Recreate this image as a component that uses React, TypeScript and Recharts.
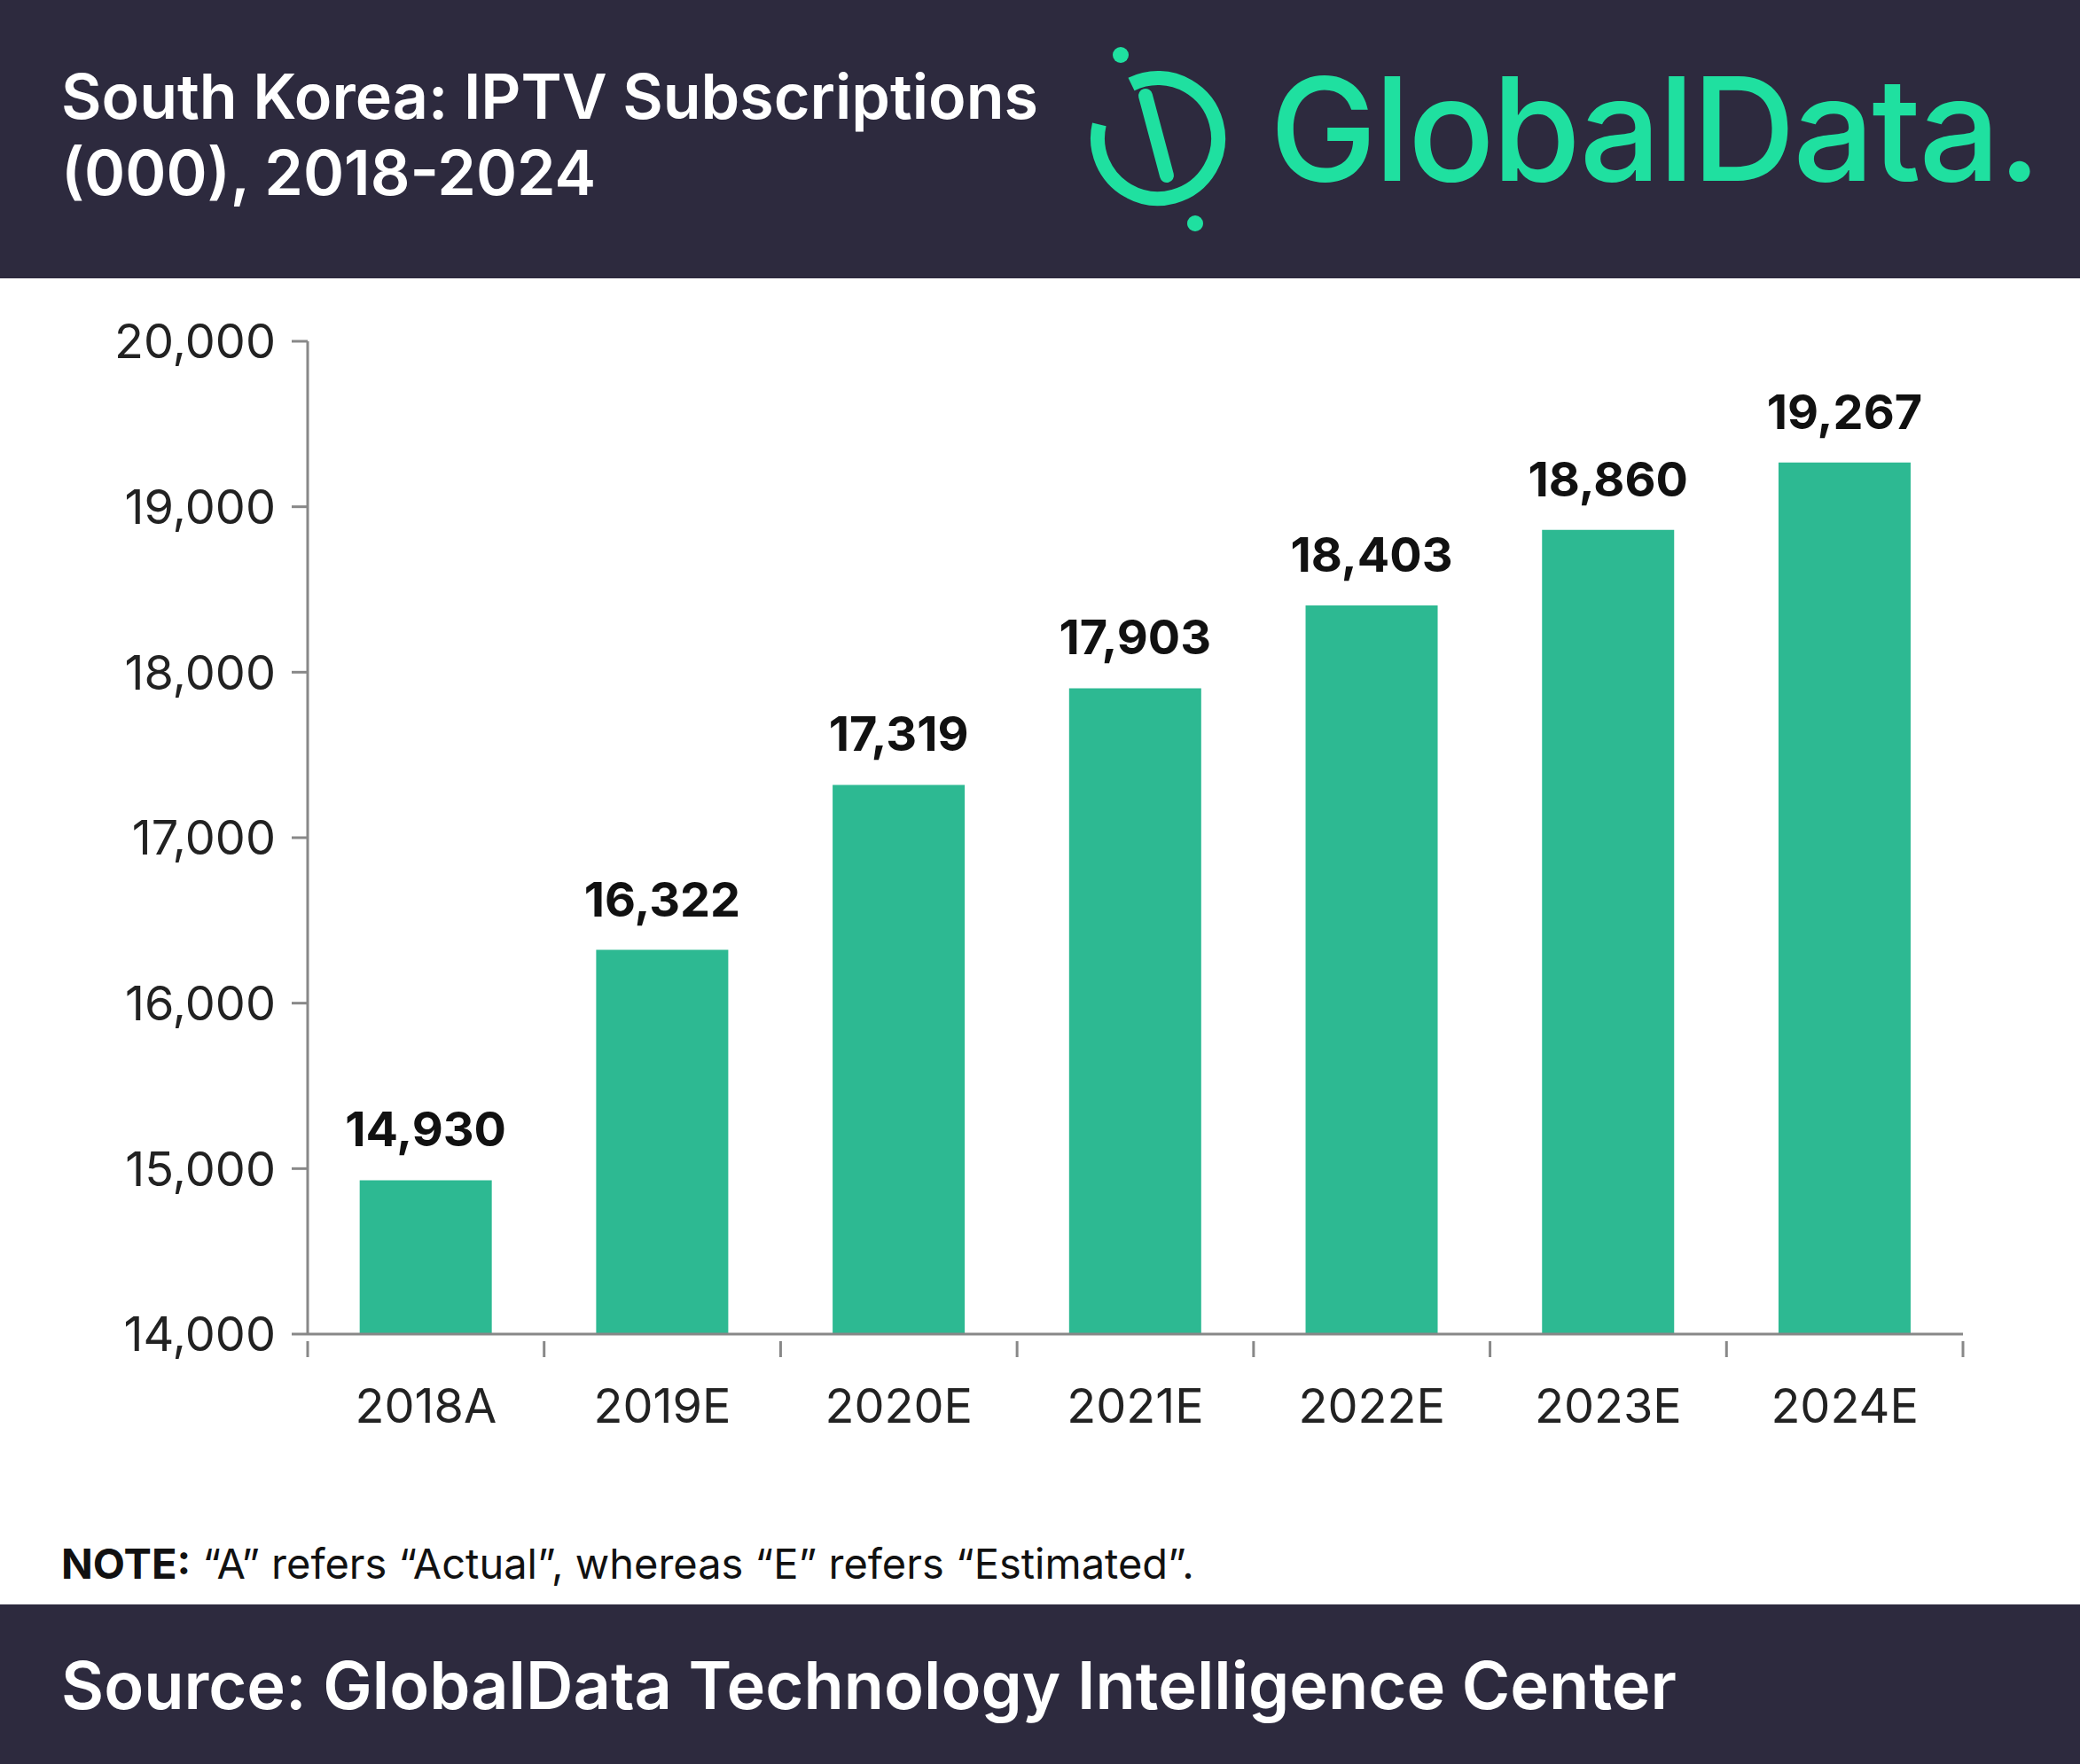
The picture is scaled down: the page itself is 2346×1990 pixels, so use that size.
import React from 'react';
import { BarChart, Bar, XAxis, YAxis, LabelList } from 'recharts';

const years = ['2018A', '2019E', '2020E', '2021E', '2022E', '2023E', '2024E'];
const subscriptions = [14930, 16322, 17319, 17903, 18403, 18860, 19267];
const yTicks = [14000, 15000, 16000, 17000, 18000, 19000, 20000];

const data = years.map((year, i) => ({ year, value: subscriptions[i] }));

const DARK = '#2d2a3e';
const GREEN = '#2db992';
const FONT = 'Inter, "Noto Sans", sans-serif';
const BAND = (2214 - 347) / years.length;

const fmt = (v: number) => v.toLocaleString('en-US');

// ticks sit between categories, labels centred under the bars
const XTick = (props: any) => {
  const { x, y, payload, index } = props;
  const last = index === years.length - 1;
  return (
    <g>
      <line x1={x - BAND / 2} y1={y} x2={x - BAND / 2} y2={y + 18} stroke="#888" strokeWidth={3} />
      {last && <line x1={x + BAND / 2} y1={y} x2={x + BAND / 2} y2={y + 18} stroke="#888" strokeWidth={3} />}
      <text x={x} y={y + 92} textAnchor="middle" fill="#222" fontSize={54} fontFamily={FONT}>
        {payload.value}
      </text>
    </g>
  );
};

export default function App() {
  return (
    <div style={{ position: 'absolute', left: 0, top: 0, width: 2346, height: 1990, background: '#fff', fontFamily: FONT, overflow: 'hidden' }}>
      <div style={{ position: 'absolute', left: 0, top: 0, width: 2346, height: 314, background: DARK }}>
        <div style={{ position: 'absolute', left: 69, top: 66, color: '#fff', fontSize: 70, fontWeight: 600, lineHeight: '86px' }}>
          South Korea: IPTV Subscriptions
          <br />
          (000), 2018-2024
        </div>
        <svg style={{ position: 'absolute', left: 1220, top: 48 }} width={180} height={220}>
          <circle cx={86} cy={108} r={68} fill="none" stroke="#1fe0a0" strokeWidth={16} strokeDasharray="300 60" transform="rotate(-60 86 108)" />
          <line x1={72} y1={60} x2={96} y2={150} stroke="#1fe0a0" strokeWidth={16} strokeLinecap="round" />
          <circle cx={44} cy={14} r={9} fill="#1fe0a0" />
          <circle cx={128} cy={204} r={9} fill="#1fe0a0" />
        </svg>
        <div style={{ position: 'absolute', left: 1432, top: 60, color: '#1fe0a0', fontSize: 162, fontWeight: 500, lineHeight: '170px', letterSpacing: -3 }}>
          GlobalData.
        </div>
      </div>

      <div style={{ position: 'absolute', left: 0, top: 314 }}>
        <BarChart width={2346} height={1400} data={data} margin={{ top: 71, right: 132, left: 0, bottom: 109 }} barCategoryGap="22%">
          <XAxis
            dataKey="year"
            stroke="#888"
            strokeWidth={3}
            tickLine={false}
            height={100}
            tick={<XTick />}
            interval={0}
          />
          <YAxis
            domain={[14000, 20000]}
            ticks={yTicks}
            width={347}
            stroke="#888"
            strokeWidth={3}
            tickSize={18}
            tickMargin={18}
            tickFormatter={fmt}
            tick={{ fill: '#222', fontSize: 54, fontFamily: FONT }}
          />
          <Bar dataKey="value" fill={GREEN} isAnimationActive={false}>
            <LabelList dataKey="value" position="top" offset={38} formatter={(v: number) => fmt(v)} style={{ fill: '#111', fontSize: 54, fontWeight: 700, fontFamily: FONT }} />
          </Bar>
        </BarChart>
      </div>

      <div style={{ position: 'absolute', left: 69, top: 1735, fontSize: 47, color: '#111' }}>
        <b>NOTE:</b> “A” refers “Actual”, whereas “E” refers “Estimated”.
      </div>

      <div style={{ position: 'absolute', left: 0, top: 1810, width: 2346, height: 180, background: DARK }}>
        <div style={{ position: 'absolute', left: 69, top: 46, color: '#fff', fontSize: 74, fontWeight: 600 }}>
          Source: GlobalData Technology Intelligence Center
        </div>
      </div>
    </div>
  );
}
